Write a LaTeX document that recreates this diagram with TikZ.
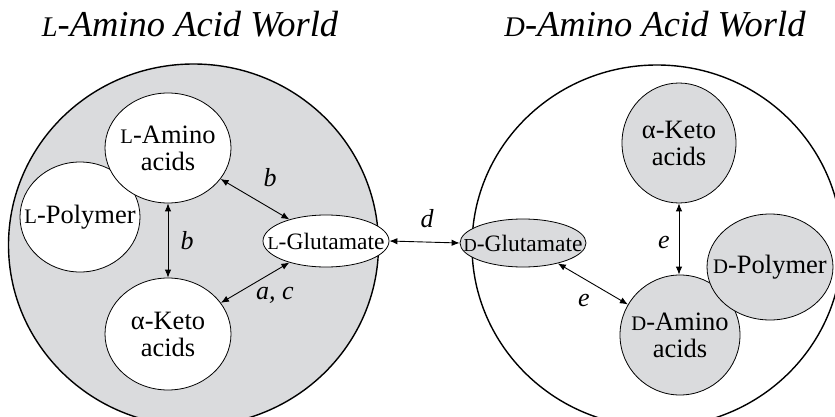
\documentclass[tikz,border=0pt]{standalone}
\usepackage{fontspec}
\setmainfont{Liberation Serif}
\usetikzlibrary{shapes.geometric,arrows.meta}
\definecolor{worldgray}{RGB}{218,219,221}
% small-capital stereo descriptor (L / D)
\newcommand{\stereo}[1]{\scalebox{0.78}{#1}}
\begin{document}
\begin{tikzpicture}[x=1pt,y=-1pt,
  world/.style={ellipse, draw=black, line width=1.4pt, inner sep=0pt,
                minimum width=370pt, minimum height=362pt},
  blob/.style={ellipse, draw=black, line width=0.8pt, inner sep=0pt},
  lightblob/.style={blob, fill=white},
  darkblob/.style={blob, fill=worldgray},
  txt/.style={align=center, inner sep=0pt, font=\fontsize{26.5}{27}\selectfont},
  gtxt/.style={txt, font=\fontsize{23.5}{27}\selectfont},
  link/.style={{Latex[length=8pt,width=6.5pt]}-{Latex[length=8pt,width=6.5pt]}, line width=0.9pt},
  tag/.style={font=\fontsize{26}{26}\selectfont\itshape},
  title/.style={font=\fontsize{36.5}{36.5}\selectfont\itshape, anchor=base}]
\useasboundingbox (0,0) rectangle (835,417);
\clip (0,0) rectangle (835,417);

% titles
\node[title] (ltitle) at (190,37) {\stereo{L}-Amino Acid World};
\node[title] (dtitle) at (655,37) {\stereo{D}-Amino Acid World};

% ---- L world ----
\node[world, fill=worldgray] (lworld) at (193.5,245) {};
\node[lightblob, minimum width=120pt, minimum height=110pt] (lp) at (80,217) {};
\node[txt] (lptxt) at (lp) {\stereo{L}-Polymer};
\node[lightblob, minimum width=126pt, minimum height=110pt] (la) at (168,148) {};
\node[txt] (latxt) at (la) {\stereo{L}-Amino\\acids};
\node[lightblob, minimum width=126pt, minimum height=112pt] (lk) at (168,334) {};
\node[txt] (lktxt) at (lk) {α-Keto\\acids};
\node[lightblob, minimum width=126pt, minimum height=52pt] (lg) at (326,241) {};
\node[gtxt] (lgtxt) at (lg) {\stereo{L}-Glutamate};

% ---- D world ----
\node[world, fill=white] (dworld) at (657,246) {};
\node[darkblob, minimum width=126pt, minimum height=48pt] (dg) at (523,243) {};
\node[gtxt] (dgtxt) at (dg) {\stereo{D}-Glutamate};
\node[darkblob, minimum width=114pt, minimum height=120pt] (rk) at (679,143) {};
\node[txt] (rktxt) at (rk) {α-Keto\\acids};
\node[darkblob, minimum width=120pt, minimum height=120pt] (da) at (680,335) {};
\node[txt] (datxt) at (da) {\stereo{D}-Amino\\acids};
\node[darkblob, minimum width=126pt, minimum height=106pt] (dp) at (770,267) {};
\node[txt] (dptxt) at (dp) {\stereo{D}-Polymer};

% ---- reactions ----
\draw[link] (la) -- (lg);
\draw[link] (la.south) -- (lk.north);
\draw[link] (lk) -- (lg);
\draw[link] (lg.east) -- (dg.west);
\draw[link] (dg) -- (da);
\draw[link] (rk.south) -- (rk.south |- da.north);

% ---- enzyme labels ----
\node[tag] (b1) at (270,178) {b};
\node[tag] (b2) at (187,241) {b};
\node[tag] (ac) at (275,295) {a, c};
\node[tag] (d1) at (427,219) {d};
\node[tag] (e1) at (584,300) {e};
\node[tag] (e2) at (664,243) {e};
\end{tikzpicture}
\end{document}
